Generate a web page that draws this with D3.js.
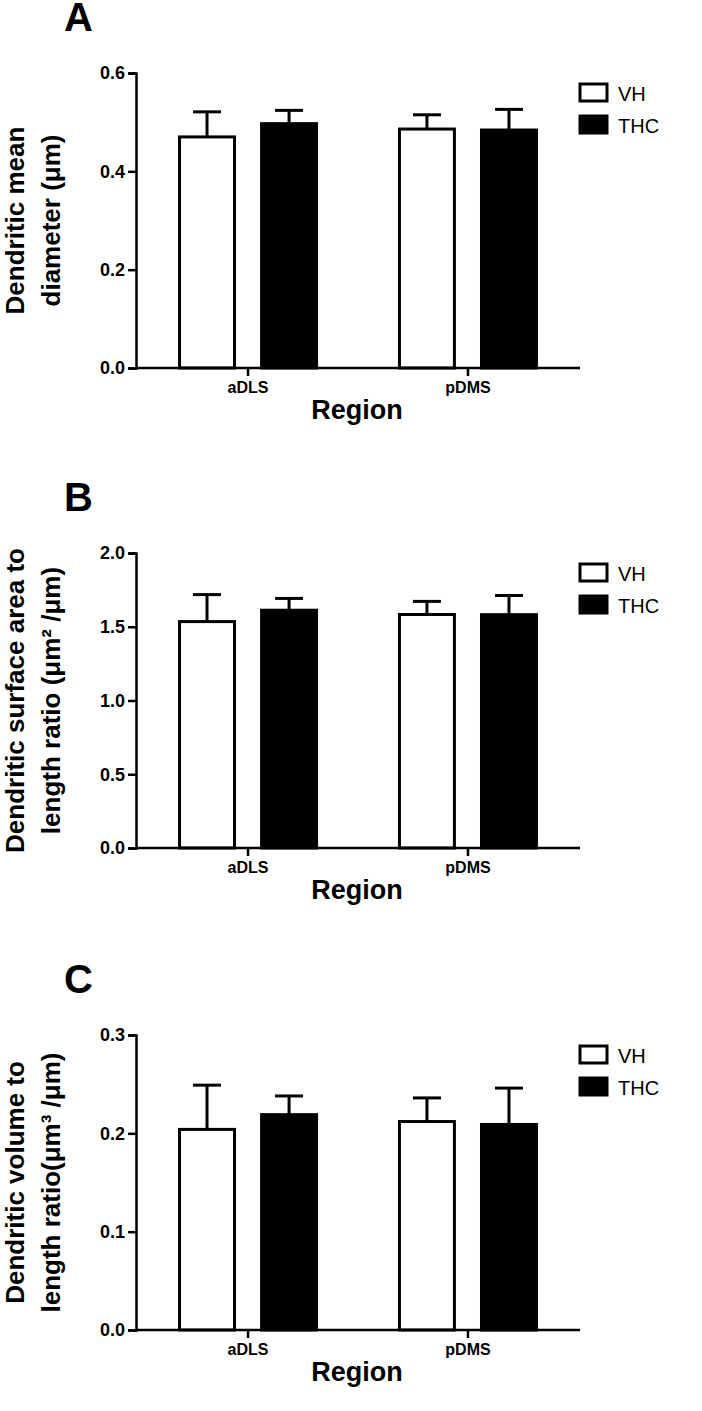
<!DOCTYPE html>
<html>
<head>
<meta charset="utf-8">
<style>
body { margin: 0; background: #fff; }
text { font-family: Arial, "Liberation Sans", sans-serif; fill: #000; }
</style>
</head>
<body>
<div id="chart"></div>
<script src="https://d3js.org/d3.v7.min.js"></script>
<script>
var regions = ['aDLS', 'pDMS'];
var groups = ['VH', 'THC'];
var meanA = [[0.470, 0.497], [0.486, 0.484]];
var errA  = [[0.521, 0.524], [0.515, 0.526]];
var meanB = [[1.535, 1.612], [1.583, 1.582]];
var errB  = [[1.718, 1.692], [1.672, 1.712]];
var meanC = [[0.204, 0.219], [0.212, 0.209]];
var errC  = [[0.249, 0.238], [0.236, 0.246]];

var panels = [
  {letter: 'A', top: 73, max: 0.6, ticks: [0, 0.2, 0.4, 0.6], fmt: '.1f', mean: meanA, err: errA,
   label: ['Dendritic mean', 'diameter (\u03bcm)']},
  {letter: 'B', top: 553, max: 2.0, ticks: [0, 0.5, 1.0, 1.5, 2.0], fmt: '.1f', mean: meanB, err: errB,
   label: ['Dendritic surface area to', 'length ratio (\u03bcm\u00b2 /\u03bcm)']},
  {letter: 'C', top: 1035, max: 0.3, ticks: [0, 0.1, 0.2, 0.3], fmt: '.1f', mean: meanC, err: errC,
   label: ['Dendritic volume to', 'length ratio(\u03bcm\u00b3 /\u03bcm)']}
];

var svg = d3.select('#chart').append('svg').attr('width', 702).attr('height', 1411);
var H = 295, x0 = 136, x1 = 580;
var FF = 'Arial, "Liberation Sans", sans-serif';

var xr = d3.scaleBand().domain(regions).range([x0, x1]).paddingInner(0.377).paddingOuter(0.198);
var xg = d3.scaleBand().domain(groups).range([0, xr.bandwidth()]).paddingInner(0.33);

panels.forEach(function(p) {
  var g = svg.append('g').attr('transform', 'translate(0,' + p.top + ')');
  var y = d3.scaleLinear().domain([0, p.max]).range([H, 0]);

  svg.append('text').attr('x', 64).attr('y', p.top - 42).attr('font-size', 40)
    .attr('font-weight', 'bold').text(p.letter);

  var ya = g.append('g').attr('transform', 'translate(' + x0 + ',0)')
    .call(d3.axisLeft(y).tickValues(p.ticks).tickFormat(d3.format(p.fmt)).tickSize(8));
  ya.attr('font-size', 18).attr('font-family', FF).attr('font-weight', 'bold');
  ya.select('.domain').attr('stroke-width', 2.5);
  ya.selectAll('line').attr('stroke-width', 2.5);

  var lt = g.append('text').attr('transform', 'translate(0,' + (H / 2) + ') rotate(-90)')
    .attr('text-anchor', 'middle').attr('font-size', 26).attr('font-weight', 'bold');
  lt.append('tspan').attr('x', 0).attr('y', 24).text(p.label[0]);
  lt.append('tspan').attr('x', 0).attr('y', 60).text(p.label[1]);

  regions.forEach(function(r, i) {
    groups.forEach(function(gr, j) {
      var bx = xr(r) + xg(gr), bw = xg.bandwidth();
      var cx = bx + bw / 2;
      g.append('line').attr('x1', cx).attr('x2', cx).attr('y1', y(p.mean[i][j])).attr('y2', y(p.err[i][j]))
        .attr('stroke', '#000').attr('stroke-width', 3);
      g.append('line').attr('x1', cx - 14).attr('x2', cx + 14).attr('y1', y(p.err[i][j])).attr('y2', y(p.err[i][j]))
        .attr('stroke', '#000').attr('stroke-width', 3);
      g.append('rect').attr('x', bx).attr('y', y(p.mean[i][j]))
        .attr('width', bw).attr('height', H - y(p.mean[i][j]))
        .attr('fill', j === 0 ? '#fff' : '#000').attr('stroke', '#000').attr('stroke-width', 3);
    });
  });

  var xa = g.append('g').attr('transform', 'translate(0,' + H + ')')
    .call(d3.axisBottom(xr).tickSize(8).tickSizeOuter(0));
  xa.attr('font-size', 16).attr('font-family', FF).attr('font-weight', 'bold');
  xa.select('.domain').attr('stroke-width', 2.5).attr('d', 'M' + x0 + ',0H' + x1);
  xa.selectAll('line').attr('stroke-width', 2.5);
  xa.selectAll('text').attr('dy', '0.85em');

  g.append('text').attr('x', 357).attr('y', H + 51).attr('text-anchor', 'middle')
    .attr('font-size', 27).attr('font-weight', 'bold').text('Region');

  groups.forEach(function(gr, j) {
    g.append('rect').attr('x', 580).attr('y', 11 + j * 32).attr('width', 27).attr('height', 17)
      .attr('fill', j === 0 ? '#fff' : '#000').attr('stroke', '#000').attr('stroke-width', 3);
    g.append('text').attr('x', 618).attr('y', 28 + j * 32).attr('font-size', 20).text(gr);
  });
});
</script>
</body>
</html>
